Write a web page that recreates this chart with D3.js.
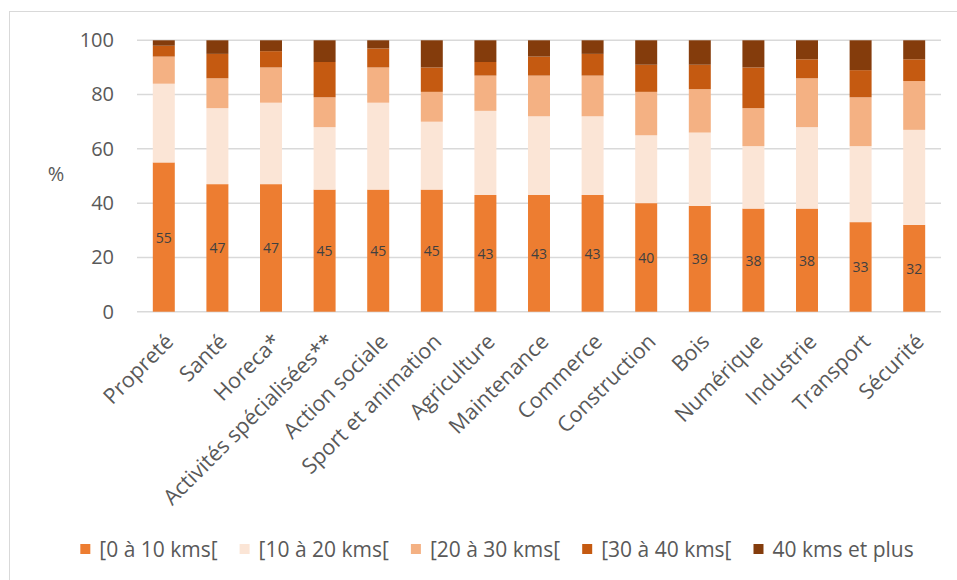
<!DOCTYPE html>
<html>
<head>
<meta charset="utf-8">
<script src="https://cdn.jsdelivr.net/npm/d3@7"></script>
<style>
  html, body { margin: 0; padding: 0; background: #fff; }
  svg { display: block; font-family: "Open Sans", "Noto Sans", sans-serif; }
</style>
</head>
<body>
<svg id="chart" width="957" height="580"></svg>
<script>
const categories = ["Propreté", "Santé", "Horeca*", "Activités spécialisées**", "Action sociale",
  "Sport et animation", "Agriculture", "Maintenance", "Commerce", "Construction",
  "Bois", "Numérique", "Industrie", "Transport", "Sécurité"];
const seriesNames = ["[0 à 10 kms[", "[10 à 20 kms[", "[20 à 30 kms[", "[30 à 40 kms[", "40 kms et plus"];
const s0to10  = [55, 47, 47, 45, 45, 45, 43, 43, 43, 40, 39, 38, 38, 33, 32];
const s10to20 = [29, 28, 30, 23, 32, 25, 31, 29, 29, 25, 27, 23, 30, 28, 35];
const s20to30 = [10, 11, 13, 11, 13, 11, 13, 15, 15, 16, 16, 14, 18, 18, 18];
const s30to40 = [ 4,  9,  6, 13,  7,  9,  5,  7,  8, 10,  9, 15,  7, 10,  8];
const s40plus = [ 2,  5,  4,  8,  3, 10,  8,  6,  5,  9,  9, 10,  7, 11,  7];
const yTicks = [0, 20, 40, 60, 80, 100];
const colors = ["#ED7D31", "#FBE5D6", "#F4B183", "#C55A11", "#843C0C"];

const seriesValues = [s0to10, s10to20, s20to30, s30to40, s40plus];
const keys = seriesNames;
const table = categories.map((c, i) => {
  const row = { cat: c };
  keys.forEach((k, j) => row[k] = seriesValues[j][i]);
  return row;
});

const svg = d3.select("#chart");
const textColor = "#595959";

// chart frame (top & left visible)
svg.append("rect").attr("x", 9.5).attr("y", 11.5).attr("width", 1200).attr("height", 1200)
  .attr("fill", "none").attr("stroke", "#d9d9d9").attr("stroke-width", 1);

const x = d3.scaleBand().domain(categories).range([137, 941]).paddingInner(0.59).paddingOuter(0.295);
const y = d3.scaleLinear().domain([0, 100]).range([311.7, 40.3]);
const color = d3.scaleOrdinal().domain(keys).range(colors);

// gridlines
svg.append("g").selectAll("line").data(yTicks).join("line")
  .attr("x1", 137).attr("x2", 941)
  .attr("y1", d => y(d)).attr("y2", d => y(d))
  .attr("stroke", "#d9d9d9").attr("stroke-width", 1.5);

// y axis labels
const yAxis = svg.append("g").attr("transform", "translate(114,0)")
  .call(d3.axisLeft(y).tickValues(yTicks).tickSize(0).tickPadding(0));
yAxis.select(".domain").remove();
yAxis.selectAll("text").attr("font-size", 20).attr("fill", textColor)
  .attr("font-family", "'Open Sans', sans-serif");

svg.append("text").attr("x", 56).attr("y", 173).attr("text-anchor", "middle")
  .attr("dominant-baseline", "central").attr("font-size", 20).attr("fill", textColor).text("%");

// stacked bars
const stack = d3.stack().keys(keys)(table);
svg.append("g").selectAll("g").data(stack).join("g")
  .attr("fill", d => color(d.key))
  .selectAll("rect").data(d => d).join("rect")
  .attr("x", d => x(d.data.cat))
  .attr("width", x.bandwidth())
  .attr("y", d => y(d[1]))
  .attr("height", d => y(d[0]) - y(d[1]));

// data labels for first series
svg.append("g").selectAll("text").data(stack[0]).join("text")
  .attr("x", d => x(d.data.cat) + x.bandwidth() / 2)
  .attr("y", d => y((d[0] + d[1]) / 2))
  .attr("text-anchor", "middle").attr("dominant-baseline", "central")
  .attr("font-size", 14).attr("fill", "#404040")
  .text(d => d.data[keys[0]]);

// x axis category labels
svg.append("g").selectAll("text").data(categories).join("text")
  .attr("transform", d => `translate(${x(d) + x.bandwidth() / 2 + 11},343) rotate(-45)`)
  .attr("text-anchor", "end").attr("font-size", 21.5).attr("fill", textColor)
  .text(d => d);

// legend
const legend = svg.append("g");
const items = legend.selectAll("g").data(keys).join("g");
items.append("rect").attr("width", 10).attr("height", 10).attr("y", -5).attr("fill", d => color(d));
items.append("text").attr("x", 19).attr("y", 0).attr("dominant-baseline", "central")
  .attr("font-size", 21).attr("fill", textColor).text(d => d);
let pos = 0;
const gap = 22;
const positions = [];
items.each(function () {
  positions.push(pos);
  const w = 19 + this.querySelector("text").getComputedTextLength();
  pos += w + gap;
});
const total = pos - gap;
const startX = (80 + 914) / 2 - total / 2;
items.attr("transform", (d, i) => `translate(${startX + positions[i]},549)`);
</script>
</body>
</html>
